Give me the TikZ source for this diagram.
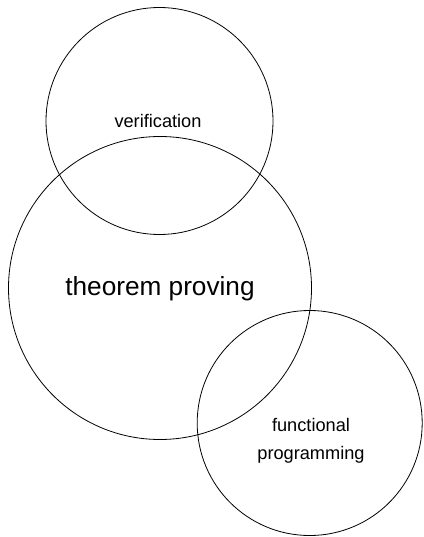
\documentclass[tikz,border=0pt]{standalone}
\usepackage{fontspec}
\setmainfont{Liberation Sans}
\usepackage{tikz}
\usetikzlibrary{positioning}

\begin{document}
\begin{tikzpicture}[
  x=1bp, y=-1bp,
  area/.style={draw=black, circle, line width=0.8bp, inner sep=0pt},
  smalltext/.style={font=\fontsize{18.2bp}{28bp}\selectfont, align=center},
  bigtext/.style={font=\fontsize{26.2bp}{30bp}\selectfont},
]
% Canvas: 423 x 537 px, y runs downwards
\useasboundingbox (0,0) rectangle (423,537);

% Circles (diameter = 2r)
\node[area, minimum size=227bp] (verif) at (159.5,121) {};
\node[area, minimum size=303bp] (proving) at (160,288) {};
\node[area, minimum size=225bp] (funcprog) at (309.7,423) {};

% Labels
\node[smalltext] (veriflabel) at (158,121) {verification};
\node[bigtext] (provinglabel) at (160,289) {theorem proving};
\node[smalltext] (funcproglabel) at (311,441) {functional\\programming};

\end{tikzpicture}
\end{document}
